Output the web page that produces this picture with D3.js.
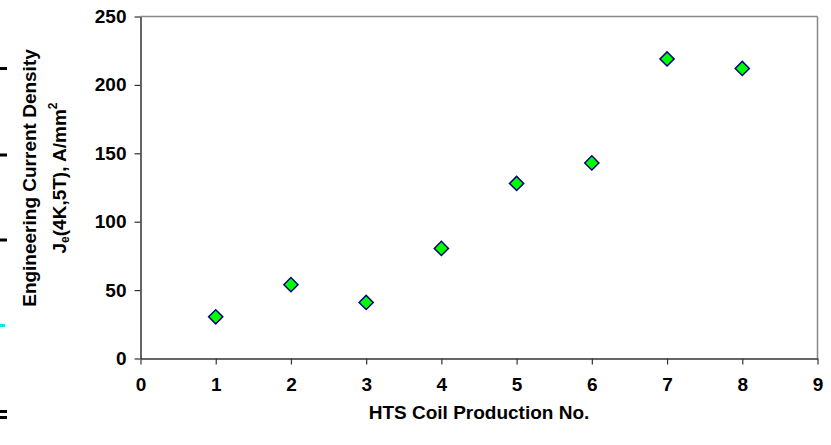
<!DOCTYPE html>
<html><head><meta charset="utf-8">
<script src="https://cdn.jsdelivr.net/npm/d3@7"></script>
<style>body{margin:0;background:#fff}svg{display:block}text{font-family:Arial,"Liberation Sans",sans-serif;font-weight:bold}</style>
</head><body>
<svg id="c" width="831" height="445"></svg>
<script>
const coilNo = [1,2,3,4,5,6,7,8];
const jeValues = [30.5,54,41,80.5,128,143,219,212];
const xTicks = [0,1,2,3,4,5,6,7,8,9];
const yTicks = [0,50,100,150,200,250];

const svg = d3.select("#c");
const L=140.5, R=817.5, T=16.5, B=358.5;
const FS = 19;
const x = d3.scaleLinear().domain([0,9]).range([L,R]);
const y = d3.scaleLinear().domain([0,250]).range([B,T]);

// left-edge artifacts
[[67,"#000"],[153.5,"#000"],[238.5,"#000"],[410,"#000"],[416,"#000"]].forEach(d=>{
  svg.append("rect").attr("x",0).attr("y",d[0]).attr("width",7).attr("height",3).attr("fill",d[1]);
});
svg.append("rect").attr("x",0).attr("y",324).attr("width",5).attr("height",3).attr("fill","#00e8f0");

// frame top/right grey
svg.append("line").attr("x1",L).attr("x2",R).attr("y1",T).attr("y2",T).attr("stroke","#888").attr("stroke-width",1.5);
svg.append("line").attr("x1",R).attr("x2",R).attr("y1",T).attr("y2",B).attr("stroke","#888").attr("stroke-width",1.5);

const gx = svg.append("g").attr("transform",`translate(0,${B})`)
  .call(d3.axisBottom(x).tickValues(xTicks).tickSize(6).tickSizeOuter(0).tickPadding(13));
const gy = svg.append("g").attr("transform",`translate(${L},0)`)
  .call(d3.axisLeft(y).tickValues(yTicks).tickSize(6).tickSizeOuter(0).tickPadding(8));
[gx,gy].forEach(g=>{
  g.attr("font-size",FS).attr("font-family","Arial, 'Liberation Sans', sans-serif").attr("font-weight","bold");
  g.select(".domain").attr("stroke","#333").attr("stroke-width",1.5);
  g.selectAll(".tick line").attr("stroke","#333").attr("stroke-width",1.2);
  g.selectAll(".tick text").style("font-size",FS+"px").attr("fill","#000");
});

// markers
const sym = d3.symbol().type(d3.symbolSquare).size(100);
svg.append("g").selectAll("path").data(coilNo).join("path")
  .attr("d",sym)
  .attr("transform",(d,i)=>`translate(${x(d)},${y(jeValues[i])}) rotate(45)`)
  .attr("fill","#00ff00").attr("stroke","#000080").attr("stroke-width",1.5);

// axis titles
svg.append("text").attr("x",479).attr("y",419).attr("text-anchor","middle")
  .style("font-size",FS+"px").text("HTS Coil Production No.");
const yt = svg.append("g").attr("transform","translate(0,178) rotate(-90)");
yt.append("text").attr("x",0).attr("y",36).attr("text-anchor","middle").style("font-size",FS+"px")
  .text("Engineering Current Density");
const t2 = yt.append("text").attr("x",0).attr("y",66).attr("text-anchor","middle").style("font-size",FS+"px");
t2.append("tspan").text("J");
t2.append("tspan").style("font-size","12px").attr("dy",3).text("e");
t2.append("tspan").attr("dy",-3).text("(4K,5T), A/mm");
t2.append("tspan").style("font-size","12px").attr("dy",-9).text("2");
</script>
</body></html>
